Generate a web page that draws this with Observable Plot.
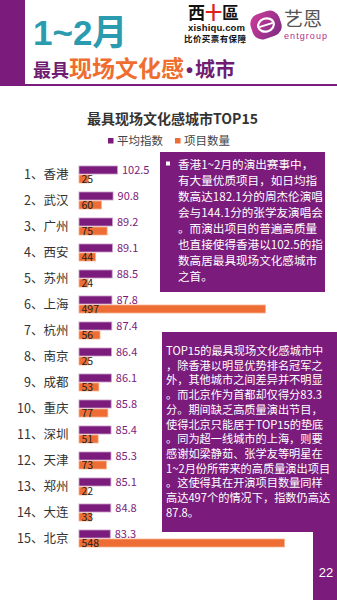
<!DOCTYPE html>
<html><head><meta charset="utf-8">
<script src="https://cdn.jsdelivr.net/npm/d3@7"></script>
<script src="https://cdn.jsdelivr.net/npm/@observablehq/plot@0.6"></script>
<style>
body{margin:0;background:#fff;}
#page{position:relative;width:337px;height:600px;overflow:hidden;background:#fff;font-family:"Noto Sans CJK SC",sans-serif;}
#chart{position:absolute;left:0;top:0;}
#deco{position:absolute;left:0;top:0;}
</style></head>
<body><div id="page"><div id="chart"></div><svg id="deco" width="337" height="600" xmlns="http://www.w3.org/2000/svg"></svg></div>
<script>
const cities = ["香港","武汉","广州","西安","苏州","上海","杭州","南京","成都","重庆","深圳","天津","郑州","大连","北京"];
const avgIndex = [102.5,90.8,89.2,89.1,88.5,87.8,87.4,86.4,86.1,85.8,85.4,85.3,85.1,84.8,83.3];
const projectCount = [25,60,75,44,24,497,56,25,53,77,51,73,22,33,548];
const seriesNames = ["平均指数","项目数量"];
const chartTitle = "最具现场文化感城市TOP15";
const box1Lines = ["香港1~2月的演出赛事中，","有大量优质项目，如日均指","数高达182.1分的周杰伦演唱","会与144.1分的张学友演唱会","。而演出项目的普遍高质量","也直接使得香港以102.5的指","数高居最具现场文化感城市","之首。"];
const box2Lines = ["TOP15的最具现场文化感城市中","，除香港以明显优势排名冠军之","外，其他城市之间差异并不明显","。而北京作为首都却仅得分83.3","分。期间缺乏高质量演出节目，","使得北京只能居于TOP15的垫底","。同为超一线城市的上海，则要","感谢如梁静茹、张学友等明星在","1~2月份所带来的高质量演出项目","。这使得其在开演项目数量同样","高达497个的情况下，指数仍高达","87.8。"];
const pageNumber = "22";

const PURPLE = "#7B1B7C", ORANGE = "#EE6D35";
const data = cities.map((c, i) => ({city: c, rank: i + 1, avg: avgIndex[i], count: projectCount[i]}));

const chart = Plot.plot({
  width: 337, height: 600,
  marginLeft: 79, marginRight: 0, marginTop: 152, marginBottom: 39,
  style: {fontFamily: "'Noto Sans CJK SC', sans-serif", background: "transparent", color: "#333", overflow: "visible"},
  x: {domain: [0, 688], axis: null},
  y: {domain: cities, padding: 0.34, axis: null},
  marks: [
    Plot.barX(data, {y: "city", x: "avg", fill: PURPLE, stroke: "#C99BC9", strokeWidth: 0.8, insetBottom: 9}),
    Plot.barX(data, {y: "city", x: "count", fill: ORANGE, stroke: "#F7B18E", strokeWidth: 0.8, insetTop: 9}),
    Plot.text(data, {y: "city", x: "avg", text: d => d.avg.toFixed(1), dx: 4, dy: -4.5, textAnchor: "start", fill: PURPLE, fontSize: 11}),
    Plot.text(data, {y: "city", x: 0, text: d => String(d.count), dx: 2, dy: 4.5, textAnchor: "start", fill: "#222", fontSize: 10.5}),
    Plot.axisY({tickSize: 0, tickPadding: 11, fontSize: 12.5, label: null, tickFormat: d => `${cities.indexOf(d) + 1}、${d}`})
  ]
});
document.getElementById("chart").appendChild(chart);

const svg = d3.select("#deco");
// header
svg.append("rect").attr("x", 0).attr("y", 0).attr("width", 25).attr("height", 85).attr("fill", PURPLE);
svg.append("rect").attr("x", 0).attr("y", 84).attr("width", 337).attr("height", 2).attr("fill", PURPLE);
svg.append("text").attr("x", 33).attr("y", 45).attr("font-family", "'Liberation Sans','Noto Sans CJK SC',sans-serif")
  .attr("font-weight", "bold").attr("font-size", 35).attr("fill", "#2B9BB0").text("1~2月");
const h2 = svg.append("text").attr("x", 33).attr("y", 77).attr("font-weight", "bold").attr("font-family", "'Noto Sans CJK SC',sans-serif");
h2.append("tspan").attr("font-size", 18).attr("fill", "#6E1D72").text("最具");
h2.append("tspan").attr("font-size", 23).attr("fill", "#EE6D2F").text("现场文化感");
h2.append("tspan").attr("font-size", 20).attr("fill", "#6E1D72").attr("font-family", "'Liberation Sans',sans-serif").attr("dx", 2).text("•");
h2.append("tspan").attr("font-size", 20).attr("fill", "#6E1D72").attr("dx", 2).text("城市");
// logo 1
const l1 = svg.append("text").attr("x", 188).attr("y", 19).attr("font-size", 17).attr("font-weight", "bold");
l1.append("tspan").attr("fill", "#111").text("西");
l1.append("tspan").attr("fill", "#E0201C").text("十");
l1.append("tspan").attr("fill", "#111").text("區");
svg.append("text").attr("x", 188).attr("y", 31).attr("font-family", "'Liberation Sans',sans-serif").attr("font-weight", "bold")
  .attr("font-size", 9.5).attr("textLength", 57).attr("fill", "#111").text("xishiqu.com");
svg.append("text").attr("x", 184).attr("y", 42).attr("font-weight", "bold").attr("font-size", 8.5).attr("textLength", 62).attr("fill", "#111").text("比价买票有保障");
// logo 2
const defs = svg.append("defs");
const g = defs.append("linearGradient").attr("id", "lg").attr("x1", 0).attr("y1", 0).attr("x2", 1).attr("y2", 1);
g.append("stop").attr("offset", 0).attr("stop-color", "#D03C9C");
g.append("stop").attr("offset", 1).attr("stop-color", "#7A2A82");
const lg = svg.append("g").attr("transform", "translate(266,25) rotate(-18)");
lg.append("rect").attr("x", -15).attr("y", -13).attr("width", 30).attr("height", 26).attr("rx", 10).attr("fill", "url(#lg)");
lg.append("ellipse").attr("rx", 8).attr("ry", 6.5).attr("fill", "none").attr("stroke", "#fff").attr("stroke-width", 2.2);
lg.append("line").attr("x1", -7).attr("x2", 7).attr("y1", 0).attr("y2", 0).attr("stroke", "#fff").attr("stroke-width", 2);
svg.append("text").attr("x", 284).attr("y", 26).attr("font-size", 19).attr("fill", "#555").text("艺恩");
svg.append("text").attr("x", 284).attr("y", 39).attr("font-family", "'Liberation Sans',sans-serif").attr("font-size", 9)
  .attr("textLength", 43).attr("fill", "#B0308E").text("entgroup");
// chart title + legend
svg.append("text").attr("x", 87).attr("y", 124).attr("font-size", 14).attr("font-weight", "bold").attr("fill", "#333").text(chartTitle);
[[108, PURPLE], [175, ORANGE]].forEach(([x, c], i) => {
  svg.append("rect").attr("x", x).attr("y", 138).attr("width", 5.5).attr("height", 5.5).attr("fill", c);
  svg.append("text").attr("x", x + 9).attr("y", 145).attr("font-size", 11.5).attr("fill", "#444").text(seriesNames[i]);
});
// box 1
svg.append("rect").attr("x", 160).attr("y", 152).attr("width", 165).attr("height", 140).attr("fill", PURPLE);
svg.append("rect").attr("x", 166).attr("y", 161.5).attr("width", 4).attr("height", 4).attr("fill", "#fff");
box1Lines.forEach((t, i) => svg.append("text").attr("x", 178).attr("y", 169 + 16 * i).attr("font-size", 11.6).attr("fill", "#fff").text(t));
// box 2
svg.append("rect").attr("x", 162).attr("y", 332).attr("width", 175).attr("height", 200).attr("fill", PURPLE);
svg.append("rect").attr("x", 313).attr("y", 531).attr("width", 24).attr("height", 69).attr("fill", PURPLE);
box2Lines.forEach((t, i) => svg.append("text").attr("x", 166).attr("y", 355 + 14.7 * i).attr("font-size", 11.2).attr("fill", "#fff").text(t));
svg.append("text").attr("x", 326).attr("y", 577).attr("text-anchor", "middle").attr("font-family", "'Liberation Sans',sans-serif")
  .attr("font-size", 13).attr("fill", "#fff").text(pageNumber);
</script></body></html>
